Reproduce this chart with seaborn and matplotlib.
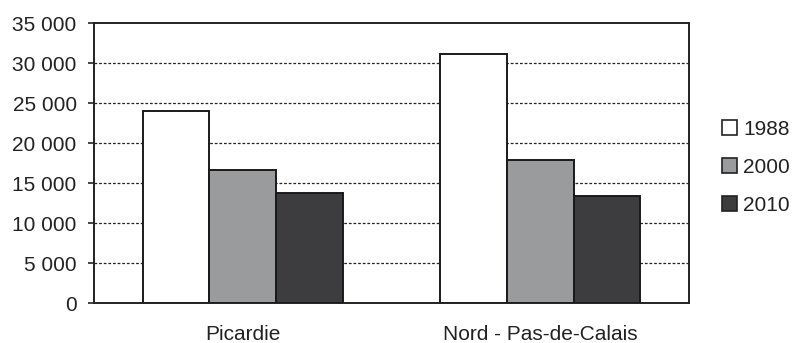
import matplotlib
matplotlib.use("Agg")
import matplotlib.pyplot as plt
from matplotlib.patches import Patch
from matplotlib.ticker import FuncFormatter
import pandas as pd
import seaborn as sns

regions = ["Picardie", "Nord - Pas-de-Calais"]
years = ["1988", "2000", "2010"]
values_1988 = [24000, 31200]
values_2000 = [16700, 17900]
values_2010 = [13800, 13400]
colors = ["#ffffff", "#9a9b9d", "#3d3d3f"]

df = pd.DataFrame({
    "region": regions * 3,
    "year": [y for y in years for _ in regions],
    "value": values_1988 + values_2000 + values_2010,
})

sns.set_theme(style="white")
plt.rcParams["font.family"] = ["Liberation Sans", "DejaVu Sans"]

fig = plt.figure(figsize=(8.01, 3.43), dpi=100)
ax = fig.add_axes([0.1174, 0.1157, 0.7426, 0.8163])

sns.barplot(data=df, x="region", y="value", hue="year", order=regions,
            hue_order=years, palette=colors, width=0.674, gap=0,
            edgecolor="#1a1a1a", linewidth=1.4, saturation=1,
            ax=ax, legend=False, zorder=3)

ax.set_ylim(0, 35000)
ax.set_xlim(-0.5, 1.5)
ax.set_yticks(range(0, 35001, 5000))
ax.yaxis.set_major_formatter(FuncFormatter(lambda v, p: f"{int(v):,}".replace(",", " ")))
ax.set_xlabel("")
ax.set_ylabel("")

# Dashed horizontal gridlines behind the bars
for v in range(5000, 35000, 5000):
    ax.axhline(v, color="#222222", linewidth=0.9, linestyle=(0, (2.2, 1.5)), zorder=1)

for s in ax.spines.values():
    s.set_visible(True)
    s.set_color("#222222")
    s.set_linewidth(1.4)

ax.tick_params(axis="y", left=True, length=4.5, width=1.2, color="#222222",
               pad=8, labelsize=15, labelcolor="#222222")
ax.tick_params(axis="x", bottom=False, length=0, pad=15.5, labelsize=15,
               labelcolor="#222222")

handles = [Patch(facecolor=c, edgecolor="#222222", linewidth=1.2, label=y)
           for c, y in zip(colors, years)]
fig.legend(handles=handles, loc="center left", bbox_to_anchor=(0.888, 0.512),
           frameon=False, fontsize=15, handlelength=0.72, handleheight=0.72,
           handletextpad=0.3, labelspacing=0.9, borderpad=0,
           labelcolor="#222222")

fig.savefig("out.png", dpi=100, facecolor="white")
